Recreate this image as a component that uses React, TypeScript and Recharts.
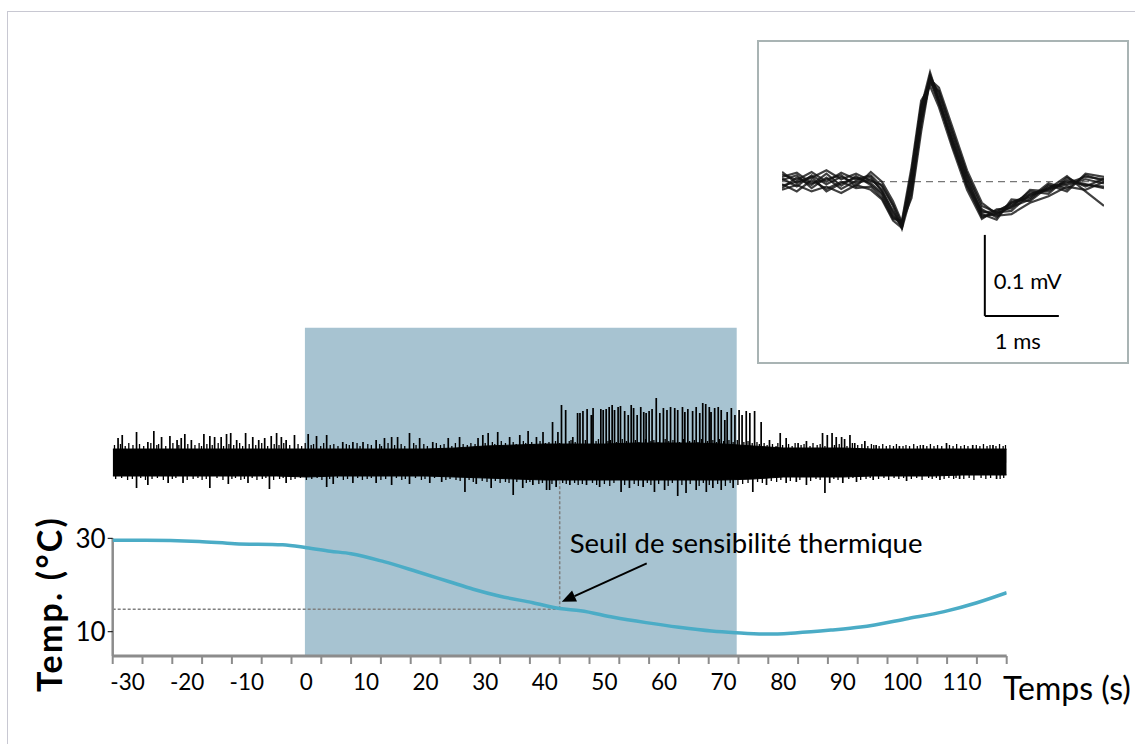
import React from 'react';
import {
  ComposedChart,
  LineChart,
  Line,
  Area,
  XAxis,
  YAxis,
  ReferenceLine,
  ReferenceArea,
  Label,
} from 'recharts';

const FONT = 'Lato, "Open Sans", sans-serif';

// ---------- main time axis (s) ----------
const timeDomain: [number, number] = [-32.5, 117.5];
const minorTicks = [
  -32.5, -27.5, -22.5, -17.5, -12.5, -7.5, -2.5, 2.5, 7.5, 12.5, 17.5, 22.5, 27.5, 32.5, 37.5, 42.5,
  47.5, 52.5, 57.5, 62.5, 67.5, 72.5, 77.5, 82.5, 87.5, 92.5, 97.5, 102.5, 107.5, 112.5, 117.5,
];
const tickLabels = [-30, -20, -10, 0, 10, 20, 30, 40, 50, 60, 70, 80, 90, 100, 110];
const tempTicks = [10, 30];
const tempDomain: [number, number] = [4.8, 75.1];
const neuroDomain: [number, number] = [-194, 134.3];

// stimulation window (s)
const stimStart = -0.25;
const stimEnd = 72.2;

// threshold
const thresholdTime = 42.5;
const thresholdTemp = 14.8;
const thresholdTopTemp = 42.5;
const arrowTail = { t: 57.1, temp: 24.65 };
const arrowTip = { t: 42.85, temp: 16.4 };

// temperature (s, °C)
const temperature: [number, number][] = [
  [-32.5, 29.6], [-27, 29.6], [-18, 29.3], [-12, 28.85], [-4, 28.6], [0, 28.0], [4, 27.25],
  [7.5, 26.7], [13, 25.0], [18.5, 22.9], [24, 20.7], [28, 19.1], [32.5, 17.6], [38, 16.2],
  [42.5, 14.95], [46, 14.5], [51.5, 13.1], [57, 11.95], [62.5, 10.95], [68, 10.15], [72, 9.8],
  [77.5, 9.5], [82, 9.75], [88, 10.35], [93, 11.0], [101, 12.85], [107, 14.3], [112.5, 16.2],
  [117.5, 18.35],
];

// nerve recording: noise band envelope (s, low, high)
const noiseBand: [number, number, number][] = [
  [-32.5, -14, 13], [-30, -14, 13], [-25, -14, 13], [-20, -14, 13], [-15, -14, 13], [-10, -14, 13],
  [-5, -14, 13], [0, -15, 13], [5, -14, 13], [10, -14, 13], [15, -14, 13], [20, -14, 13],
  [25, -15, 14], [30, -16, 16], [35, -17, 17], [40, -18, 18], [45, -18, 18], [50, -18, 18],
  [55, -18, 19], [60, -18, 19], [65, -18, 19], [70, -18, 18], [75, -17, 16], [80, -15, 14],
  [85, -15, 14], [90, -15, 14], [95, -14, 13], [100, -14, 13], [105, -14, 13], [110, -13, 13],
  [115, -13, 13], [117.5, -13, 13],
];

// upward spikes (s, amplitude)
const spikesUp: [number, number][] = [
  [-31.6, 24], [-30.9, 27], [-28.5, 30], [-26.6, 20], [-25.6, 31], [-24.3, 25], [-22.9, 26],
  [-21.7, 22], [-21.0, 24], [-20.4, 28], [-19.3, 22], [-17.2, 28], [-16.2, 26], [-15.4, 25],
  [-14.3, 25], [-13.4, 28], [-12.7, 29], [-11.7, 22], [-10.2, 29], [-9.0, 25], [-8.0, 22],
  [-7.0, 24], [-5.9, 26], [-5.0, 29], [-4.2, 25], [-3.4, 22], [-2.0, 27], [0.3, 28], [1.7, 26],
  [3.4, 27], [6.1, 20], [7.8, 20], [9.5, 20], [11.7, 22], [13.1, 24], [14.3, 25], [15.3, 25],
  [17.3, 29], [19.0, 24], [21.2, 20], [23.8, 24], [25.7, 25], [28.8, 24], [29.6, 27], [30.5, 29],
  [32.1, 30], [34.1, 25], [35.8, 27], [37.2, 31], [38.6, 25], [39.7, 30], [41.3, 40], [42.2, 30],
  [42.8, 57], [43.5, 52], [44.7, 25], [45.5, 49], [45.9, 49], [46.4, 51], [47.1, 53], [47.8, 47],
  [48.1, 54], [49.4, 53], [49.8, 52], [50.3, 53], [50.8, 55], [51.3, 57], [51.7, 52], [52.3, 55],
  [52.7, 56], [53.4, 51], [54.0, 47], [54.5, 57], [54.9, 54], [55.5, 47], [56.1, 55], [56.6, 50],
  [57.0, 49], [57.5, 51], [58.0, 53], [58.7, 64], [59.3, 49], [59.9, 54], [60.5, 52], [61.1, 55],
  [61.8, 54], [62.3, 52], [63.1, 55], [63.5, 50], [64.0, 53], [64.8, 51], [65.4, 55], [66.0, 49],
  [66.5, 59], [67.0, 58], [67.6, 55], [67.9, 50], [68.5, 54], [69.1, 55], [69.6, 52], [70.2, 42],
  [70.6, 50], [71.3, 54], [71.9, 47], [72.6, 52], [73.1, 47], [73.8, 51], [74.4, 49], [75.2, 51],
  [76.3, 40], [77.7, 22], [79.5, 29], [80.5, 24], [82.5, 19], [83.9, 21], [86.6, 29], [87.4, 27],
  [88.2, 29], [88.9, 25], [89.8, 25], [90.3, 23], [91.2, 27], [92.0, 19], [93.7, 21], [95.6, 17],
  [99.5, 16], [103.5, 17], [107.4, 19], [111.8, 17], [115.2, 17],
];

// downward spikes (s, amplitude)
const spikesDown: [number, number][] = [
  [-28.5, 26], [-26.6, 23], [-23.2, 21], [-20.7, 21], [-16.2, 26], [-13.1, 22], [-9.8, 21],
  [-6.2, 27], [-3.4, 21], [3.4, 25], [4.5, 22], [7.8, 21], [11.7, 21], [14.3, 23], [17.3, 22],
  [20.7, 21], [22.7, 20], [26.6, 30], [28.5, 22], [31.0, 26], [34.7, 33], [36.3, 26], [38.0, 23],
  [40.3, 28], [40.8, 28], [41.9, 25], [44.2, 23], [47.0, 23], [49.2, 25], [52.8, 30], [54.2, 26],
  [56.5, 25], [58.4, 30], [60.1, 28], [62.3, 34], [63.7, 31], [65.4, 28], [67.1, 30], [68.2, 26],
  [69.6, 28], [71.6, 26], [74.9, 30], [77.2, 23], [80.5, 21], [82.2, 20], [83.9, 23], [87.0, 31],
  [87.8, 21], [90.0, 21], [92.3, 20], [95.1, 18], [100.7, 19], [106.3, 18], [109.6, 17], [115.8, 17],
];

// small noise fringe above the band (s, amplitude)
const fringeUp: [number, number][] = [
  [-32.2, 17], [-31.2, 18], [-30.4, 16], [-29.8, 19], [-29.1, 17], [-28.0, 18], [-27.3, 16],
  [-26.1, 19], [-25.1, 17], [-24.8, 18], [-23.6, 16], [-22.4, 19], [-21.4, 17], [-19.9, 18],
  [-18.7, 17], [-18.0, 19], [-17.6, 16], [-16.7, 18], [-15.8, 17], [-14.8, 19], [-13.9, 16],
  [-13.0, 18], [-12.2, 17], [-11.2, 19], [-10.7, 16], [-9.6, 18], [-8.5, 17], [-7.5, 19],
  [-6.5, 16], [-5.4, 18], [-4.6, 17], [-3.8, 19], [-2.8, 17], [-1.4, 18], [-0.8, 16], [-0.2, 19],
  [0.8, 17], [1.2, 18], [2.4, 16], [2.9, 19], [4.0, 17], [4.6, 18], [5.3, 16], [6.7, 18], [7.2, 17],
  [8.5, 19], [9.0, 16], [10.3, 18], [10.9, 17], [12.3, 18], [12.6, 16], [13.7, 19], [14.8, 17],
  [15.9, 18], [16.5, 16], [18.0, 19], [18.4, 17], [19.7, 18], [20.3, 16], [21.8, 19], [22.5, 17],
  [23.1, 18], [24.4, 16], [25.0, 19], [26.3, 18], [27.0, 17], [27.6, 19], [28.3, 18], [30.0, 19],
  [31.2, 20], [31.6, 18], [32.7, 21], [33.4, 19], [34.7, 20], [35.2, 18], [36.4, 21], [36.8, 19],
  [37.8, 20], [38.2, 18], [39.2, 21], [40.1, 19], [40.7, 20], [41.8, 21], [42.5, 19], [44.1, 21],
  [44.4, 22], [45.1, 20], [46.8, 22], [48.6, 21], [49.0, 23], [50.6, 21], [51.0, 22], [52.0, 20],
  [53.0, 23], [53.7, 21], [55.2, 22], [55.8, 20], [56.9, 23], [57.8, 21], [58.3, 22], [59.0, 20],
  [60.2, 23], [60.8, 21], [61.5, 22], [62.6, 20], [63.3, 23], [64.3, 21], [65.1, 22], [65.7, 20],
  [66.3, 23], [67.3, 21], [68.2, 22], [68.8, 20], [69.3, 23], [70.0, 21], [70.9, 22], [71.6, 20],
  [72.3, 22], [73.4, 20], [74.1, 21], [74.8, 19], [75.6, 20], [76.0, 18], [76.8, 19], [77.3, 17],
  [78.2, 18], [78.8, 16], [79.1, 19], [79.9, 17], [80.9, 18], [81.5, 16], [82.0, 19], [83.0, 17],
  [83.5, 18], [84.5, 16], [85.0, 19], [85.7, 17], [86.2, 18], [87.0, 16], [88.6, 17], [89.4, 18],
  [90.7, 16], [91.6, 19], [92.5, 17], [93.2, 18], [94.2, 16], [94.8, 18], [95.2, 17], [96.1, 16],
  [96.7, 18], [97.3, 16], [97.9, 17], [98.5, 16], [99.0, 18], [100.1, 16], [100.6, 17], [101.2, 16],
  [101.9, 18], [102.5, 16], [103.0, 17], [104.1, 16], [104.7, 18], [105.3, 16], [105.9, 17],
  [106.6, 16], [107.9, 17], [108.5, 16], [109.1, 18], [109.8, 16], [110.4, 17], [111.0, 16],
  [112.4, 17], [113.0, 16], [113.6, 18], [114.2, 16], [114.7, 17], [115.7, 16], [116.3, 18],
  [116.9, 16], [117.3, 17],
];

// small noise fringe below the band (s, amplitude)
const fringeDown: [number, number][] = [
  [-32.0, 17], [-31.0, 16], [-30.0, 18], [-29.2, 17], [-27.8, 16], [-27.0, 18], [-25.9, 17],
  [-25.0, 16], [-24.0, 18], [-22.5, 17], [-21.9, 16], [-20.0, 18], [-19.0, 17], [-18.2, 16],
  [-17.5, 18], [-16.8, 17], [-15.0, 16], [-14.0, 18], [-12.5, 17], [-11.9, 16], [-11.0, 18],
  [-10.4, 17], [-9.1, 16], [-8.3, 18], [-7.4, 17], [-6.8, 16], [-5.5, 18], [-4.5, 17], [-3.9, 16],
  [-2.6, 18], [-1.9, 17], [-1.0, 16], [0.0, 18], [0.9, 17], [1.8, 16], [2.6, 18], [3.9, 17],
  [5.2, 16], [6.2, 18], [6.9, 17], [8.6, 16], [9.4, 18], [10.2, 17], [10.9, 16], [12.5, 18],
  [13.3, 17], [15.1, 16], [16.0, 18], [16.6, 17], [18.3, 16], [19.3, 18], [19.9, 17], [21.5, 16],
  [23.4, 18], [24.1, 17], [25.1, 18], [25.8, 19], [27.3, 18], [28.0, 20], [29.5, 19], [30.3, 20],
  [31.7, 19], [32.5, 21], [33.4, 20], [34.0, 21], [35.3, 20], [36.9, 21], [37.5, 20], [39.0, 22],
  [39.6, 21], [41.2, 22], [43.0, 21], [43.6, 22], [45.0, 21], [45.6, 23], [46.3, 22], [48.0, 21],
  [48.7, 23], [50.0, 22], [50.9, 24], [51.6, 21], [53.4, 23], [55.0, 22], [55.7, 24], [57.2, 21],
  [57.8, 23], [59.1, 22], [60.7, 24], [61.4, 21], [63.0, 23], [64.4, 22], [65.9, 24], [66.6, 21],
  [67.6, 23], [69.0, 22], [70.3, 24], [71.1, 21], [72.4, 23], [73.2, 22], [74.1, 21], [75.7, 20],
  [76.5, 21], [78.0, 19], [78.9, 20], [79.6, 18], [81.2, 19], [82.8, 18], [84.6, 19], [85.5, 17],
  [86.2, 18], [88.5, 17], [89.2, 18], [91.0, 17], [91.7, 16], [93.0, 18], [93.9, 17], [94.6, 16],
  [96.0, 17], [96.9, 16], [97.7, 18], [98.6, 16], [99.4, 17], [100.2, 16], [101.5, 17],
  [102.4, 16], [103.3, 18], [104.4, 16], [105.0, 17], [105.7, 16], [107.0, 17], [107.8, 16],
  [108.6, 17], [109.0, 16], [110.3, 17], [111.2, 16], [112.0, 18], [113.2, 16], [114.0, 17],
  [114.8, 16], [116.4, 17], [117.0, 16],
];

// ---------- inset: superimposed action potentials ----------
const insetTimes = [
  0, 0.2, 0.4, 0.6, 0.8, 1.0, 1.2, 1.35, 1.5, 1.62, 1.75, 1.88, 2.0, 2.12, 2.3, 2.5, 2.7, 2.9, 3.1,
  3.35, 3.6, 3.85, 4.1, 4.35,
];
const wave1 = [4, -6, 8, -3, 6, -2, 3, -10, -38, -56, -5, 80, 132, 105, 55, 2, -38, -36, -28, -18, -8, -4, 3, -2];
const wave2 = [-8, 5, -4, 10, -5, 7, -4, -16, -44, -50, 10, 95, 125, 98, 48, -6, -42, -40, -30, -12, -15, 5, -6, 4];
const wave3 = [9, 2, 12, 0, 11, 3, 8, -6, -30, -58, -15, 70, 128, 110, 60, 8, -34, -44, -25, -20, -2, -9, 8, 1];
const wave4 = [-3, -12, 2, -9, 0, -8, -6, -20, -46, -48, 18, 100, 118, 92, 42, -10, -46, -34, -33, -10, -12, 2, -3, -8];
const wave5 = [2, 8, -8, 5, -9, 1, 6, -12, -36, -54, 0, 88, 130, 101, 52, 4, -40, -47, -22, -24, -6, -2, 6, 3];
const wave6 = [12, -2, 5, 14, 3, 10, 1, -4, -28, -52, -10, 76, 122, 112, 63, 10, -30, -38, -36, -15, -9, 7, -12, -30];
const wave7 = [-10, -4, -12, -6, -14, -4, -10, -22, -48, -57, 12, 92, 135, 100, 45, -4, -36, -42, -40, -26, -18, -6, -10, 0];
const wave8 = [6, 11, -2, 3, 8, -6, 12, 0, -24, -50, -20, 62, 126, 116, 68, 14, -26, -40, -31, -22, -4, -12, 10, 6];
const wave9 = [-5, 0, 6, -12, -2, 5, -2, -14, -42, -55, 4, 84, 128, 96, 50, -2, -44, -38, -26, -16, -10, 0, -4, -6];
const waves = [wave1, wave2, wave3, wave4, wave5, wave6, wave7, wave8, wave9];
const insetTimeDomain: [number, number] = [0, 4.35];
const insetVoltDomain: [number, number] = [-200, 140];
const scaleBarOrigin = { t: 2.74, v: -165.7 };
const scaleBarV = 100; // µV = 0.1 mV
const scaleBarT = 1; // ms

// ---------- components ----------
const TimeTick = (props: any) => {
  const { x, y, payload } = props;
  const v = payload.value;
  if (tickLabels.includes(v)) {
    return (
      <text x={x} y={y + 34} textAnchor="middle" fontSize={22.5} fontFamily={FONT} fill="#000">
        {v}
      </text>
    );
  }
  return <line x1={x} x2={x} y1={y} y2={y + 8} stroke="#8c8c8c" strokeWidth={2} />;
};

const ArrowShape = (p: any) => {
  const { x1, y1, x2, y2 } = p;
  const dx = x2 - x1;
  const dy = y2 - y1;
  const len = Math.hypot(dx, dy) || 1;
  const ux = dx / len;
  const uy = dy / len;
  const hl = 14;
  const hw = 6;
  const bx = x2 - ux * hl;
  const by = y2 - uy * hl;
  return (
    <g>
      <line x1={x1} y1={y1} x2={bx} y2={by} stroke="#000" strokeWidth={2} />
      <polygon
        points={`${x2},${y2} ${bx - uy * hw},${by + ux * hw} ${bx + uy * hw},${by - ux * hw}`}
        fill="#000"
      />
      <text x={x1 - 77} y={y1 - 10} fontSize={27.5} fontFamily={FONT} fill="#000">
        Seuil de sensibilité thermique
      </text>
    </g>
  );
};

const VBarShape = (p: any) => {
  const { x1, y1, x2, y2 } = p;
  return (
    <g>
      <line x1={x1} y1={y1} x2={x2} y2={y2} stroke="#000" strokeWidth={2} />
      <text x={x1 + 9} y={y1 + 54} fontSize={22} fontFamily={FONT} fill="#000">
        0.1 mV
      </text>
    </g>
  );
};

const HBarShape = (p: any) => {
  const { x1, y1, x2, y2 } = p;
  return (
    <g>
      <line x1={x1} y1={y1} x2={x2} y2={y2} stroke="#000" strokeWidth={2} />
      <text x={x1 + 10} y={y1 + 33} fontSize={22} fontFamily={FONT} fill="#000">
        1 ms
      </text>
    </g>
  );
};

const spikeLine = (pairs: [number, number][], sign: number) =>
  pairs.flatMap(([t, a]) => [
    { t, v: 0 },
    { t, v: sign * a },
    { t, v: 0 },
  ]);

export default function App() {
  const tempData = temperature.map(([t, temp]) => ({ t, temp }));
  const bandData = noiseBand.map(([t, lo, hi]) => ({ t, range: [lo, hi] }));
  const upData = spikeLine(spikesUp, 1);
  const downData = spikeLine(spikesDown, -1);
  const fringeUpData = spikeLine(fringeUp, 1);
  const fringeDownData = spikeLine(fringeDown, -1);
  const insetData = insetTimes.map((t, i) => {
    const row: any = { t };
    waves.forEach((w, k) => {
      row['w' + k] = w[i];
    });
    return row;
  });
  const allTicks = [...minorTicks, ...tickLabels].sort((a, b) => a - b);

  const spikeSeries = [
    { key: 'fu', data: fringeUpData, w: 1.3 },
    { key: 'fd', data: fringeDownData, w: 1.3 },
    { key: 'su', data: upData, w: 1.7 },
    { key: 'sd', data: downData, w: 1.7 },
  ];

  return (
    <div style={{ position: 'absolute', left: 0, top: 0, width: 1135, height: 744, background: '#fff' }}>
      <div
        style={{
          position: 'absolute',
          left: 7,
          top: 11,
          width: 1128,
          height: 733,
          borderLeft: '1.5px solid #c8c8d2',
          borderTop: '1.5px solid #c8c8d2',
          boxSizing: 'border-box',
        }}
      />
      <div style={{ position: 'absolute', left: 0, top: 0 }}>
        <ComposedChart
          width={1135}
          height={744}
          margin={{ top: 327.7, right: 128.3, bottom: 48, left: 72.7 }}
        >
          <XAxis
            dataKey="t"
            type="number"
            domain={timeDomain}
            allowDataOverflow
            ticks={allTicks}
            interval={0}
            tick={<TimeTick />}
            tickLine={false}
            tickSize={0}
            tickMargin={0}
            axisLine={{ stroke: '#8c8c8c', strokeWidth: 3 }}
            height={40}
            label={
              <Label
                content={() => (
                  <text x={1003} y={700} fontSize={32} fontFamily={FONT} fill="#000">
                    Temps (s)
                  </text>
                )}
              />
            }
          />
          <YAxis
            yAxisId="temp"
            orientation="left"
            type="number"
            domain={tempDomain}
            allowDataOverflow
            ticks={tempTicks}
            interval={0}
            width={40}
            axisLine={false}
            tickLine={{ stroke: '#000', strokeWidth: 1 }}
            tickSize={5}
            tickMargin={2}
            tick={{ fontSize: 26, fill: '#000', fontFamily: FONT }}
            label={
              <Label
                content={() => (
                  <text
                    x={62}
                    y={604}
                    transform="rotate(-90, 62, 604)"
                    textAnchor="middle"
                    fontSize={34}
                    fontWeight="bold"
                    letterSpacing={2.2}
                    fontFamily={FONT}
                    fill="#000"
                  >
                    Temp. (°C)
                  </text>
                )}
              />
            }
          />
          <YAxis
            yAxisId="neuro"
            orientation="right"
            width={0}
            type="number"
            domain={neuroDomain}
            allowDataOverflow
            hide
          />

          <ReferenceArea
            yAxisId="temp"
            x1={stimStart}
            x2={stimEnd}
            fill="#a7c3d1"
            fillOpacity={1}
            stroke="none"
            ifOverflow="visible"
          />

          <Area
            yAxisId="neuro"
            data={bandData}
            dataKey="range"
            type="linear"
            stroke="#000"
            strokeWidth={1}
            fill="#000"
            fillOpacity={1}
            isAnimationActive={false}
            dot={false}
            activeDot={false}
          />
          {spikeSeries.map((s) => (
            <Line
              key={s.key}
              yAxisId="neuro"
              data={s.data}
              dataKey="v"
              type="linear"
              stroke="#000"
              strokeWidth={s.w}
              dot={false}
              activeDot={false}
              isAnimationActive={false}
            />
          ))}

          <ReferenceLine
            yAxisId="temp"
            segment={[
              { x: timeDomain[0], y: thresholdTemp },
              { x: thresholdTime, y: thresholdTemp },
            ]}
            stroke="#7f7f7f"
            strokeWidth={1.5}
            strokeDasharray="3 2"
            ifOverflow="visible"
          />
          <ReferenceLine
            yAxisId="temp"
            segment={[
              { x: thresholdTime, y: thresholdTemp },
              { x: thresholdTime, y: thresholdTopTemp },
            ]}
            stroke="#7f7f7f"
            strokeWidth={1.5}
            strokeDasharray="3 2"
            ifOverflow="visible"
          />
          <ReferenceLine
            yAxisId="temp"
            segment={[
              { x: timeDomain[0], y: tempDomain[0] },
              { x: timeDomain[0], y: tempTicks[1] },
            ]}
            stroke="#8c8c8c"
            strokeWidth={2.5}
            ifOverflow="visible"
          />

          <Line
            yAxisId="temp"
            data={tempData}
            dataKey="temp"
            type="monotone"
            stroke="#4bacc6"
            strokeWidth={3.5}
            dot={false}
            activeDot={false}
            isAnimationActive={false}
          />

          <ReferenceLine
            yAxisId="temp"
            segment={[
              { x: arrowTail.t, y: arrowTail.temp },
              { x: arrowTip.t, y: arrowTip.temp },
            ]}
            shape={ArrowShape}
            ifOverflow="visible"
          />
        </ComposedChart>
      </div>

      <div
        style={{
          position: 'absolute',
          left: 757,
          top: 40,
          width: 372,
          height: 324,
          border: '2.5px solid #a9b4b4',
          boxSizing: 'border-box',
          background: '#fff',
        }}
      />
      <div style={{ position: 'absolute', left: 759, top: 42 }}>
        <LineChart
          width={368}
          height={320}
          data={insetData}
          margin={{ top: 26.3, right: 23, bottom: 18.3, left: 23 }}
        >
          <XAxis dataKey="t" type="number" domain={insetTimeDomain} allowDataOverflow hide />
          <YAxis type="number" domain={insetVoltDomain} allowDataOverflow hide />
          <ReferenceLine y={0} stroke="#777" strokeWidth={1.3} strokeDasharray="7 5" />
          {waves.map((_, k) => (
            <Line
              key={k}
              dataKey={'w' + k}
              type="linear"
              stroke="#111"
              strokeOpacity={0.8}
              strokeWidth={2.2}
              dot={false}
              activeDot={false}
              isAnimationActive={false}
            />
          ))}
          <ReferenceLine
            segment={[
              { x: scaleBarOrigin.t, y: scaleBarOrigin.v + scaleBarV },
              { x: scaleBarOrigin.t, y: scaleBarOrigin.v },
            ]}
            shape={VBarShape}
            ifOverflow="visible"
          />
          <ReferenceLine
            segment={[
              { x: scaleBarOrigin.t, y: scaleBarOrigin.v },
              { x: scaleBarOrigin.t + scaleBarT, y: scaleBarOrigin.v },
            ]}
            shape={HBarShape}
            ifOverflow="visible"
          />
        </LineChart>
      </div>
    </div>
  );
}
